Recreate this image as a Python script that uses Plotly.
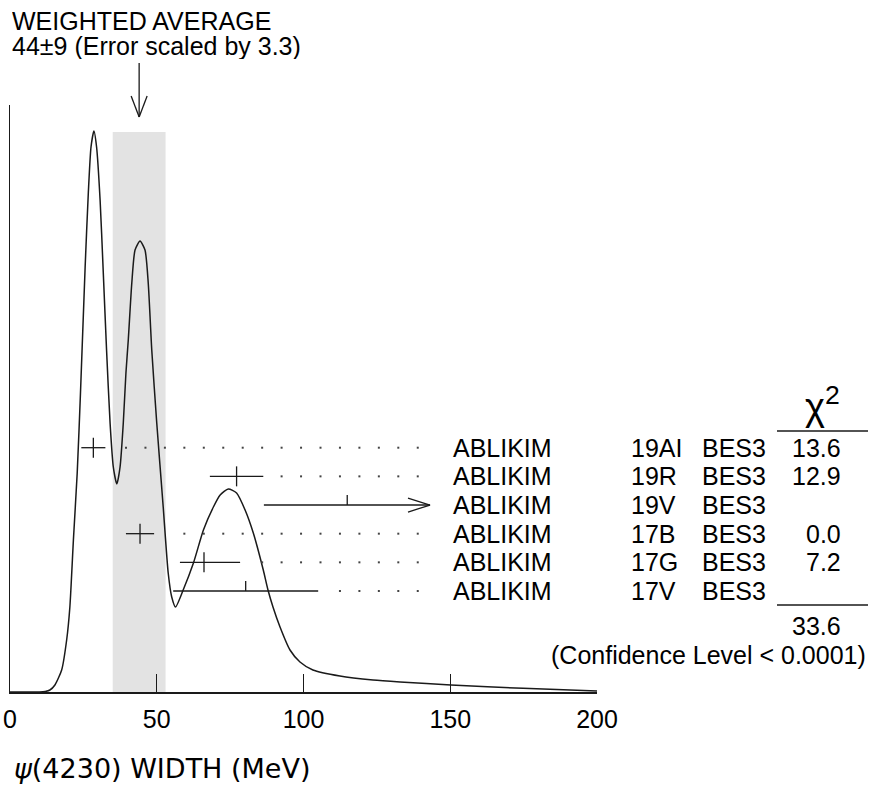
import plotly.graph_objects as go

W, H = 869, 789

# ---------------- data ----------------
authors = ["ABLIKIM", "ABLIKIM", "ABLIKIM", "ABLIKIM", "ABLIKIM", "ABLIKIM"]
docs = ["19AI", "19R", "19V", "17B", "17G", "17V"]
techs = ["BES3", "BES3", "BES3", "BES3", "BES3", "BES3"]
values = [28.4, 77.2, 114.9, 44.3, 66.1, 80.3]
err_lo = [4.1, 9.1, 28.4, 4.8, 8.2, 24.7]
err_hi = [4.1, 9.1, 28.2, 4.8, 12.3, 24.7]
used = [True, True, False, True, True, False]
arrow_right = [False, False, True, False, False, False]
chi2 = ["13.6", "12.9", "", "0.0", "7.2", ""]
chi2_total = "33.6"
conf_text = "(Confidence Level < 0.0001)"
avg_value = 44
avg_error = 9
scale_factor = 3.3

# ideogram curve (MeV, relative height)
curve_x = [0, 10, 12, 13.6, 15.3, 17.6, 19.3, 20.4, 21.6, 22.9, 24.0, 25.6, 26.7, 27.6,
           28.6, 29.5, 30.7, 31.7, 32.9, 34.1, 35.2, 36.4, 37.5, 38.6, 39.5, 40.3, 41.5,
           42.6, 44.3, 46.0, 47.1, 48.3, 50.0, 52.2, 53.9, 55.1, 56.4, 59.0, 62.5, 65.9,
           69.3, 71.6, 74.4, 77.2, 80.1, 82.9, 86.3, 87.9, 89.6, 92.0, 95.4, 98.8, 103.2,
           112.4, 123.7, 132.9, 150.2, 174.8, 200]
curve_y = [0, 0, 0.5, 2, 7, 22, 52, 85, 152, 219, 298, 425, 500, 545,
           561, 545, 492, 425, 342, 269, 225, 208, 225, 269, 319, 352, 409,
           442, 451, 442, 409, 342, 269, 185, 119, 95, 85, 102, 129, 162,
           185, 197, 203, 199, 182, 159, 122, 102, 85, 65, 42, 30, 22,
           16, 12, 10, 7, 3.7, 1]

x_ticks = [0, 50, 100, 150, 200]

# ---------------- layout helpers ----------------
X0_PX, X1_PX = 10, 597        # pixel positions of 0 and 200 MeV
BASE_PX, TOP_PX = 692, 105    # baseline and top of the frame
PX_PER_MEV = (X1_PX - X0_PX) / 200.0
PLOT_H = BASE_PX - TOP_PX


def px_x(px):
    return px / W


def py_paper(py):
    return (BASE_PX - py) / PLOT_H


def py_y(py):
    return BASE_PX - py


row_y = [py_y(447.7 + 28.66 * i) for i in range(len(values))]
INK = "#1a1a1a"
FONT = "Liberation Sans, Arial, sans-serif"
FS = 25

fig = go.Figure()

# weighted average band
band_top = 560
fig.add_shape(type="rect", xref="x", yref="y", x0=avg_value - avg_error, x1=avg_value + avg_error,
              y0=0, y1=band_top, fillcolor="#e3e3e3", line=dict(width=0), layer="below")

# ideogram
fig.add_trace(go.Scatter(x=curve_x, y=curve_y, mode="lines",
                         line=dict(color=INK, width=1.5, shape="spline", smoothing=0.6),
                         hoverinfo="skip", showlegend=False))

# measurements
for i, v in enumerate(values):
    fig.add_trace(go.Scatter(
        x=[v], y=[row_y[i]], mode="markers",
        marker=dict(size=1, color="rgba(0,0,0,0)"),
        error_x=dict(type="data", symmetric=False, array=[err_hi[i]], arrayminus=[err_lo[i]],
                     width=0, thickness=1.3, color=INK),
        error_y=dict(type="data", symmetric=False, array=[10], arrayminus=[10 if used[i] else 0],
                     width=0, thickness=1.3, color=INK),
        showlegend=False, hoverinfo="skip"))
    if arrow_right[i]:
        tip = v + err_hi[i]
        dx = 22 / PX_PER_MEV
        fig.add_trace(go.Scatter(x=[tip - dx, tip, tip - dx], y=[row_y[i] + 7, row_y[i], row_y[i] - 7],
                                 mode="lines", line=dict(color=INK, width=1.3),
                                 showlegend=False, hoverinfo="skip"))
    else:
        # dotted leader to the label
        dot0 = (126 - X0_PX) / PX_PER_MEV
        step = 19.45 / PX_PER_MEV
        end = (437 - X0_PX) / PX_PER_MEV
        start_min = v + err_hi[i] + 15 / PX_PER_MEV
        dots = []
        k = 0
        while dot0 + k * step <= end + 1e-6:
            g = dot0 + k * step
            if g > start_min:
                dots.append(g)
            k += 1
        fig.add_trace(go.Scatter(x=dots, y=[row_y[i]] * len(dots), mode="markers",
                                 marker=dict(symbol="square", size=2, color="#444"),
                                 showlegend=False, hoverinfo="skip"))

annotations = []
tfont = dict(family=FONT, size=FS, color="black")
for i in range(len(values)):
    annotations.append(dict(x=px_x(451), xref="paper", y=row_y[i], yref="y", text=authors[i],
                            xanchor="left", yanchor="middle", showarrow=False, font=tfont))
    annotations.append(dict(x=px_x(629), xref="paper", y=row_y[i], yref="y", text=docs[i],
                            xanchor="left", yanchor="middle", showarrow=False, font=tfont))
    annotations.append(dict(x=px_x(700), xref="paper", y=row_y[i], yref="y", text=techs[i],
                            xanchor="left", yanchor="middle", showarrow=False, font=tfont))
    if chi2[i]:
        annotations.append(dict(x=px_x(843), xref="paper", y=row_y[i], yref="y", text=chi2[i],
                                xanchor="right", yanchor="middle", showarrow=False, font=tfont))

annotations.append(dict(x=px_x(822), xref="paper", y=py_y(404), yref="y", text="χ<sup>2</sup>",
                        xanchor="center", yanchor="middle", showarrow=False,
                        font=dict(family=FONT, size=38, color="black")))
annotations.append(dict(x=px_x(843), xref="paper", y=py_y(626), yref="y", text=chi2_total,
                        xanchor="right", yanchor="middle", showarrow=False, font=tfont))
annotations.append(dict(x=px_x(868), xref="paper", y=py_y(655), yref="y", text=conf_text,
                        xanchor="right", yanchor="middle", showarrow=False, font=tfont))
annotations.append(dict(x=px_x(10), xref="paper", y=py_paper(21), yref="paper",
                        text="WEIGHTED AVERAGE", xanchor="left", yanchor="middle",
                        height=22, valign="middle",
                        showarrow=False, font=tfont))
annotations.append(dict(x=px_x(10), xref="paper", y=py_paper(45.5), yref="paper",
                        text=f"{avg_value}±{avg_error} (Error scaled by {scale_factor})",
                        xanchor="left", yanchor="middle", height=26, valign="middle",
                        showarrow=False, font=tfont))
annotations.append(dict(x=px_x(12), xref="paper", y=py_paper(768), yref="paper",
                        text="<i>ψ</i>(4230) WIDTH (MeV)", xanchor="left", yanchor="middle",
                        showarrow=False, font=dict(family="DejaVu Sans, sans-serif", size=27,
                                                   color="black")))

# chi2 rules
for py in (431, 605):
    fig.add_shape(type="line", xref="paper", yref="y", x0=px_x(777), x1=px_x(868),
                  y0=py_y(py), y1=py_y(py), line=dict(color=INK, width=1.3))

# average arrow
fig.add_shape(type="line", xref="x", yref="paper", x0=avg_value, x1=avg_value,
              y0=py_paper(63), y1=py_paper(117), line=dict(color=INK, width=1.3))
for side in (-1, 1):
    fig.add_shape(type="line", xref="x", yref="paper", x0=avg_value + side * 8 / PX_PER_MEV,
                  x1=avg_value, y0=py_paper(96), y1=py_paper(117), line=dict(color=INK, width=1.3))

fig.update_layout(
    width=W, height=H,
    margin=dict(l=0, r=0, t=TOP_PX, b=H - BASE_PX, autoexpand=False),
    paper_bgcolor="white", plot_bgcolor="white",
    annotations=annotations,
    xaxis=dict(domain=[X0_PX / W, X1_PX / W], range=[0, 200], tickvals=x_ticks,
               ticktext=[str(t) for t in x_ticks], ticks="inside", ticklen=18,
               tickwidth=1.2, tickcolor=INK, showline=True, linecolor=INK, linewidth=1.5,
               showgrid=False, zeroline=False, tickfont=dict(family=FONT, size=FS, color="black"),
               ticklabelstandoff=4, fixedrange=True, automargin=False),
    yaxis=dict(range=[0, PLOT_H], showticklabels=False, ticks="", showline=True,
               linecolor=INK, linewidth=1.5, showgrid=False, zeroline=False, fixedrange=True,
               automargin=False),
    showlegend=False,
)

fig.write_html("out.html", config={"displayModeBar": False, "staticPlot": True},
               post_script="document.body.style.margin='0';document.body.style.overflow='hidden';")
